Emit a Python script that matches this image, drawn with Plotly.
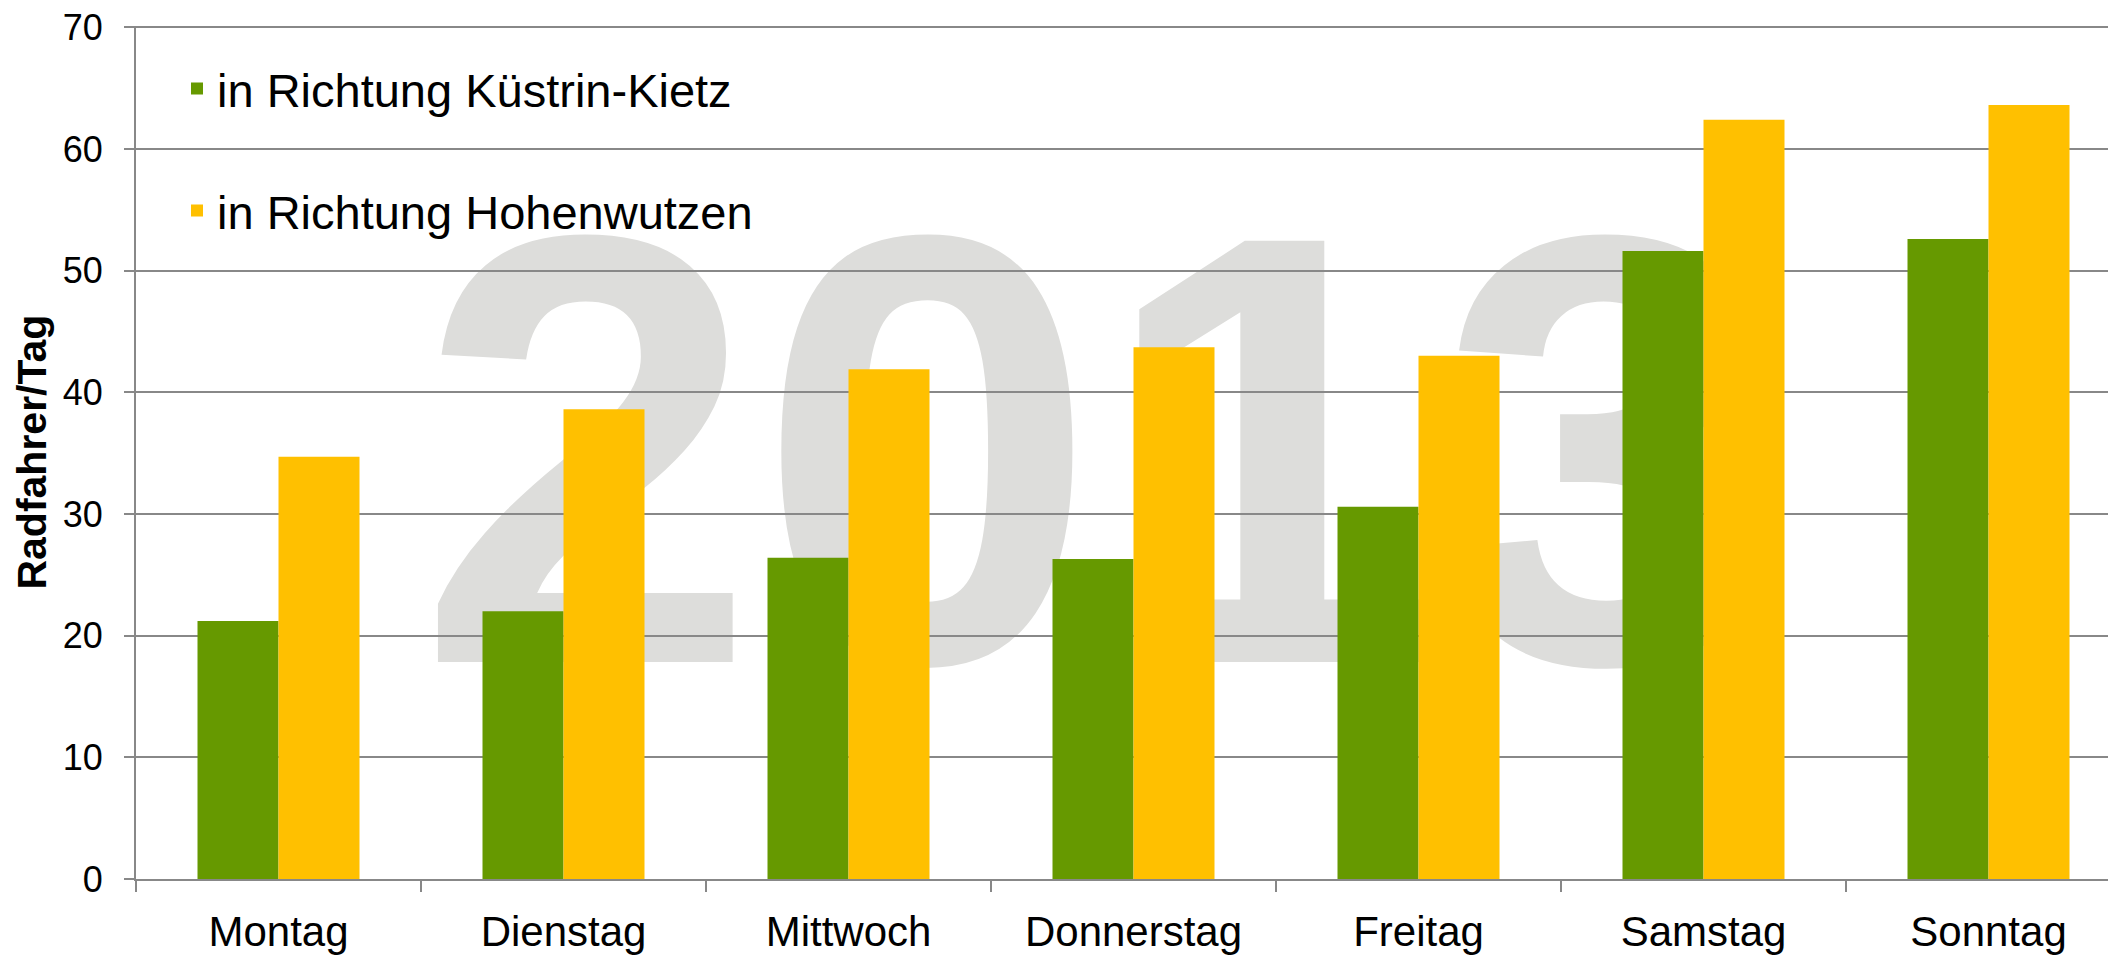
import plotly.graph_objects as go

# ---- data ----
days = ["Montag", "Dienstag", "Mittwoch", "Donnerstag", "Freitag", "Samstag", "Sonntag"]
kuestrin_kietz = [21.2, 22.0, 26.4, 26.3, 30.6, 51.6, 52.6]
hohenwutzen = [34.7, 38.6, 41.9, 43.7, 43.0, 62.4, 63.6]
series_names = ["in Richtung Küstrin-Kietz", "in Richtung Hohenwutzen"]
y_axis_title = "Radfahrer/Tag"
y_tick_values = [0, 10, 20, 30, 40, 50, 60, 70]
watermark_text = "2013"

# ---- styles ----
GREEN = "#669900"
ORANGE = "#FFC000"
GRID = "#888888"
WATERMARK = "#DDDDDB"
FONT = "Liberation Sans"
# page body has an 8px default margin, so the figure is 8px smaller
W, H = 2108, 947
M_L, M_R, M_T, M_B = 128, 0, 18, 76

fig = go.Figure()
fig.add_trace(go.Bar(
    x=days, y=kuestrin_kietz, name=series_names[0],
    marker=dict(color=GREEN, line=dict(width=0)), legend="legend", showlegend=True,
))
fig.add_trace(go.Bar(
    x=days, y=hohenwutzen, name=series_names[1],
    marker=dict(color=ORANGE, line=dict(width=0)), legend="legend2", showlegend=True,
))

# large "2013" watermark behind gridlines and bars
wm_cx, wm_cy, wm_hw, wm_hh = 0.4856, 0.571, 0.18, 0.256
fig.add_shape(
    type="rect", xref="paper", yref="paper",
    x0=wm_cx - wm_hw, x1=wm_cx + wm_hw, y0=wm_cy - wm_hh, y1=wm_cy + wm_hh,
    layer="below", line=dict(width=0), fillcolor="rgba(0,0,0,0)",
    label=dict(text=watermark_text, textposition="middle center",
               font=dict(size=612, color=WATERMARK, family="Liberation Sans", weight="bold")),
)

# y-axis title
fig.add_annotation(
    text=y_axis_title, xref="paper", yref="paper", x=-0.053, y=0.5,
    xanchor="center", yanchor="middle", textangle=-90, showarrow=False,
    font=dict(size=41, family=FONT, color="black", weight="bold"),
)

legend_common = dict(
    xref="container", yref="container", xanchor="left", yanchor="middle",
    font=dict(size=47, family=FONT, color="black"),
    bgcolor="rgba(0,0,0,0)", borderwidth=0, itemwidth=30,
)

plot_w = W - M_L - M_R
cat_px = 285.0
fig.update_layout(
    width=W, height=H,
    margin=dict(l=M_L, r=M_R, t=M_T, b=M_B, autoexpand=False),
    paper_bgcolor="white", plot_bgcolor="white",
    showlegend=True,
    barmode="group", bargap=1 - 162 / 285, bargroupgap=0,
    font=dict(family=FONT, color="black"),
    legend=dict(x=169 / W, y=1 - 81 / H, **legend_common),
    legend2=dict(x=169 / W, y=1 - 203 / H, **legend_common),
    xaxis=dict(
        type="category", range=[-0.5, -0.5 + plot_w / cat_px],
        showgrid=False, showline=True, linecolor=GRID, linewidth=2,
        ticks="outside", tickson="boundaries", ticklen=11, tickwidth=2, tickcolor=GRID,
        tickfont=dict(size=42, family=FONT, color="black"),
        ticklabelstandoff=15, automargin=False,
    ),
    yaxis=dict(
        range=[0, 70.1], tickvals=y_tick_values,
        showgrid=True, gridcolor=GRID, gridwidth=2, zeroline=False,
        showline=True, linecolor=GRID, linewidth=2,
        ticks="outside", ticklen=10, tickwidth=2, tickcolor=GRID,
        tickfont=dict(size=36, family=FONT, color="black"),
        ticklabelstandoff=14, ticklabeloverflow="allow", automargin=False,
    ),
)

fig.write_html("out.html")
